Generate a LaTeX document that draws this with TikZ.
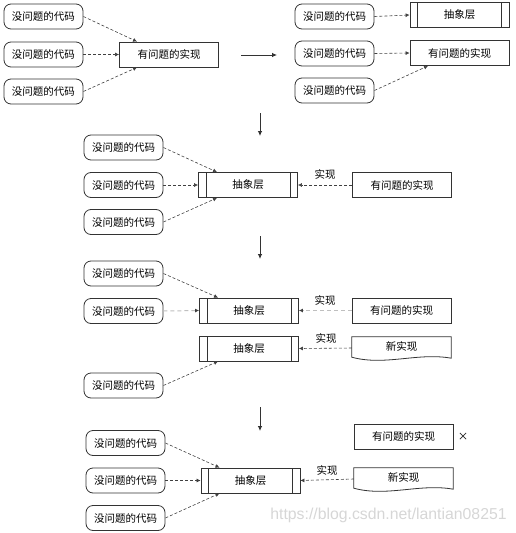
\documentclass[tikz,border=0pt]{standalone}
\usepackage{fontspec}
\setmainfont{Noto Sans CJK SC}
\newfontfamily\wmfont{Liberation Sans}
\usetikzlibrary{arrows.meta}
\begin{document}
\begin{tikzpicture}[x=1pt,y=-1pt,
  font=\fontsize{10.5}{12}\selectfont,
  codebox/.style={draw=black!80, line width=0.8pt, rounded corners=7pt, minimum width=79pt, minimum height=25pt, inner sep=0pt},
  implbox/.style={draw=black!80, line width=0.8pt, minimum width=99pt, minimum height=25pt, inner sep=0pt},
  absbox/.style={implbox, path picture={\draw[black!80, line width=0.8pt]
      ([xshift=7.5pt]path picture bounding box.north west) -- ([xshift=7.5pt]path picture bounding box.south west)
      ([xshift=-7.5pt]path picture bounding box.north east) -- ([xshift=-7.5pt]path picture bounding box.south east);}},
  docbox/.style={minimum width=99pt, minimum height=22pt, inner sep=0pt},
  docshape/.style={draw=black!80, line width=0.8pt},
  arr/.style={draw=black!75, line width=0.6pt, dash pattern=on 3pt off 2pt, -{Latex[length=4pt,width=4pt]}},
  fadedarr/.style={draw=black!25, line width=1pt, dash pattern=on 4pt off 3pt, -{Latex[length=4pt,width=4pt,color=black!75]}},
  downarr/.style={draw=black!80, line width=0.8pt, -{Latex[length=5pt,width=4.5pt]}},
  lbl/.style={inner sep=0pt}
]
\useasboundingbox (0,0) rectangle (515,533);

% ---------- Row 1 left ----------
\node[codebox] (c1a) at (43.5,16.5) {没问题的代码};
\node[codebox] (c1b) at (43.5,54.5) {没问题的代码};
\node[codebox] (c1c) at (43.5,91.5) {没问题的代码};
\node[implbox] (i1) at (169,54.5) {有问题的实现};
\draw[arr] (c1a.east) -- ([xshift=-32pt]i1.north);
\draw[arr] (c1b.east) -- (i1.west);
\draw[arr] (c1c.east) -- ([xshift=-32pt]i1.south);

% arrow to the right
\coordinate (r1s) at (241,55);
\coordinate (r1e) at (277,55);
\draw[downarr] (r1s) -- (r1e);

% ---------- Row 1 right ----------
\node[codebox] (c2a) at (334.5,16.5) {没问题的代码};
\node[codebox] (c2b) at (334.5,53.5) {没问题的代码};
\node[codebox] (c2c) at (334.5,90.5) {没问题的代码};
\node[absbox] (a2) at (459.5,15) {抽象层};
\node[implbox] (i2) at (459.5,53) {有问题的实现};
\draw[arr] (c2a.east) -- (a2.west);
\draw[arr] (c2b.east) -- (i2.west);
\draw[arr] (c2c.east) -- ([xshift=-31.5pt]i2.south);

% down arrow 1
\coordinate (d1s) at (260,113);
\coordinate (d1e) at (260,136);
\draw[downarr] (d1s) -- (d1e);

% ---------- Row 2 ----------
\node[codebox] (c3a) at (123.5,147.5) {没问题的代码};
\node[codebox] (c3b) at (123.5,185) {没问题的代码};
\node[codebox] (c3c) at (123.5,222) {没问题的代码};
\node[absbox] (a3) at (248,185) {抽象层};
\node[implbox] (i3) at (402,185) {有问题的实现};
\node[lbl] (l3) at (325,174) {实现};
\draw[arr] (c3a.east) -- ([xshift=-31pt]a3.north);
\draw[arr] (c3b.east) -- (a3.west);
\draw[arr] (c3c.east) -- ([xshift=-31pt]a3.south);
\draw[arr] (i3.west) -- (a3.east);

% down arrow 2
\coordinate (d2s) at (260,236);
\coordinate (d2e) at (260,259);
\draw[downarr] (d2s) -- (d2e);

% ---------- Row 3 ----------
\node[codebox] (c4a) at (123.5,273.5) {没问题的代码};
\node[codebox] (c4b) at (123.5,311) {没问题的代码};
\node[codebox] (c4c) at (123.5,385.5) {没问题的代码};
\node[absbox] (a4) at (249,310.5) {抽象层};
\node[absbox] (a5) at (249,348.5) {抽象层};
\node[implbox] (i4) at (401.5,310.5) {有问题的实现};
\node[docbox] (n1) at (401.5,348) {\raisebox{3.5pt}{新实现}};
\draw[docshape] (n1.north west) -- (n1.north east) -- ([yshift=1pt]n1.south east)
  .. controls ([xshift=-33pt,yshift=7pt]n1.south east) and ([xshift=33pt,yshift=-7pt]n1.south west) .. ([yshift=2pt]n1.south west) -- cycle;
\node[lbl] (l4a) at (325,300) {实现};
\node[lbl] (l4b) at (326,338) {实现};
\draw[arr] (c4a.east) -- ([xshift=-31pt]a4.north);
\draw[fadedarr] (c4b.east) -- (a4.west);
\draw[fadedarr] (i4.west) -- (a4.east);
\draw[arr] (n1.west) -- (a5.east);
\draw[arr] (c4c.east) -- ([xshift=-31pt]a5.south);

% down arrow 3
\coordinate (d3s) at (260,407);
\coordinate (d3e) at (260,431);
\draw[downarr] (d3s) -- (d3e);

% ---------- Row 4 ----------
\node[codebox] (c5a) at (125.5,443) {没问题的代码};
\node[codebox] (c5b) at (125.5,480.5) {没问题的代码};
\node[codebox] (c5c) at (125.5,518) {没问题的代码};
\node[absbox] (a6) at (250.5,480.5) {抽象层};
\node[implbox] (i5) at (403.5,436.5) {有问题的实现};
\node[lbl] (x5) at (463,436.5) {×};
\node[docbox] (n2) at (403.5,479) {\raisebox{3.5pt}{新实现}};
\draw[docshape] (n2.north west) -- (n2.north east) -- ([yshift=1pt]n2.south east)
  .. controls ([xshift=-33pt,yshift=7pt]n2.south east) and ([xshift=33pt,yshift=-7pt]n2.south west) .. ([yshift=2pt]n2.south west) -- cycle;
\node[lbl] (l5) at (327,470) {实现};
\draw[arr] (c5a.east) -- ([xshift=-31pt]a6.north);
\draw[arr] (c5b.east) -- (a6.west);
\draw[arr] (c5c.east) -- ([xshift=-31pt]a6.south);
\draw[arr] (n2.west) -- (a6.east);

% watermark
\node[lbl, text=black!16, font=\wmfont\fontsize{15.8}{18}\selectfont] (wm) at (388.5,515) {https://blog.csdn.net/lantian08251};
\end{tikzpicture}
\end{document}
